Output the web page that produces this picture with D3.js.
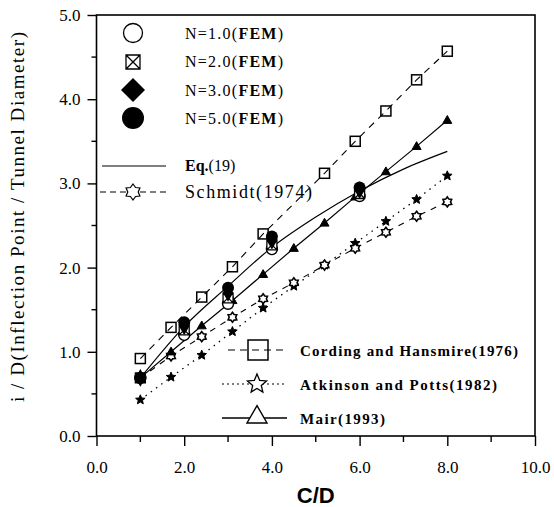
<!DOCTYPE html>
<html>
<head>
<meta charset="utf-8">
<script src="https://d3js.org/d3.v7.min.js"></script>
<style>
  body { margin: 0; background: #fff; }
  svg text { font-family: 'Liberation Serif', 'Times New Roman', 'DejaVu Serif', serif; fill: #000; }
</style>
</head>
<body>
<div id="chart"></div>
<script>
// C/D values used by the empirical series
var cdSteps = [1.0, 1.7, 2.4, 3.1, 3.8, 4.5, 5.2, 5.9, 6.6, 7.3, 8.0];

// Cording and Hansmire(1976) - no point at 4.5
var cordingCD = [1.0, 1.7, 2.4, 3.1, 3.8, 5.2, 5.9, 6.6, 7.3, 8.0];
var cordingVals = [0.92, 1.29, 1.65, 2.01, 2.40, 3.12, 3.50, 3.86, 4.23, 4.57];
var atkinsonVals = [0.43, 0.70, 0.96, 1.24, 1.52, 1.78, 2.03, 2.29, 2.55, 2.81, 3.09];
var schmidtVals = [0.69, 0.95, 1.18, 1.41, 1.63, 1.82, 2.03, 2.23, 2.42, 2.61, 2.78];
var mairVals = [0.69, 1.00, 1.31, 1.61, 1.92, 2.23, 2.53, 2.84, 3.14, 3.44, 3.75];

// Eq.(19)
var eqCD = [1, 2, 3, 4, 5, 6, 7, 8];
var eqVals = [0.69, 1.30, 1.78, 2.24, 2.60, 2.91, 3.17, 3.38];

// FEM results
var femCD = [1, 2, 3, 4, 6];
var femN1 = [0.69, 1.20, 1.57, 2.22, 2.85];
var femN2 = [0.69, 1.26, 1.64, 2.27, 2.88];
var femN3 = [0.69, 1.30, 1.70, 2.32, 2.92];
var femN5 = [0.69, 1.35, 1.76, 2.37, 2.95];

var xTicks = [0, 2, 4, 6, 8, 10];
var yTicks = [0, 1, 2, 3, 4, 5];

var W = 554, H = 507;
var margin = {top: 15, right: 19, bottom: 71, left: 96.5};
var width = W - margin.left - margin.right,
    height = H - margin.top - margin.bottom;
var SERIF = "'Liberation Serif', 'Times New Roman', 'DejaVu Serif', serif";

var svg = d3.select("#chart").append("svg")
    .attr("width", W).attr("height", H)
    .attr("font-family", SERIF);
var g = svg.append("g")
    .attr("transform", "translate(" + margin.left + "," + margin.top + ")");

var x = d3.scaleLinear().domain([0, 10]).range([0, width]);
var y = d3.scaleLinear().domain([0, 5]).range([height, 0]);

// frame
g.append("rect").attr("width", width).attr("height", height)
  .attr("fill", "none").attr("stroke", "#000").attr("stroke-width", 1.6);

// x axis ticks (outward)
var xAxis = g.append("g").attr("transform", "translate(0," + height + ")")
  .call(d3.axisBottom(x).tickValues(xTicks).tickSize(10).tickPadding(15)
    .tickFormat(d3.format(".1f")));
xAxis.append("g").selectAll("line").data(d3.range(1, 10, 2)).join("line")
  .attr("x1", d => x(d)).attr("x2", d => x(d)).attr("y1", 0).attr("y2", 6)
  .attr("stroke", "#000").attr("stroke-width", 1.4);

var yAxis = g.append("g")
  .call(d3.axisLeft(y).tickValues(yTicks).tickSize(9).tickPadding(7)
    .tickFormat(d3.format(".1f")));
yAxis.append("g").selectAll("line").data(d3.range(0.5, 5, 1)).join("line")
  .attr("x1", 0).attr("x2", -5).attr("y1", d => y(d)).attr("y2", d => y(d))
  .attr("stroke", "#000").attr("stroke-width", 1.4);

[xAxis, yAxis].forEach(function(a) {
  a.attr("font-family", SERIF);
  a.select(".domain").remove();
  a.selectAll(".tick line").attr("stroke-width", 1.4);
  a.selectAll("text").style("font-family", SERIF)
    .style("font-size", "17px").attr("fill", "#000");
});

// axis titles
g.append("text").attr("x", width / 2).attr("y", height + 67)
  .attr("text-anchor", "middle")
  .style("font-family", "'Liberation Sans', Arial, sans-serif").style("font-weight", "bold")
  .style("font-size", "22px").text("C/D");
svg.append("text")
  .attr("transform", "translate(24,217) rotate(-90)")
  .attr("text-anchor", "middle").style("font-size", "19px")
  .attr("textLength", 370).attr("lengthAdjust", "spacing")
  .text("i / D(Inflection Point / Tunnel Diameter)");

// symbol helpers
function star(cx, cy, r) {
  var pts = [];
  for (var i = 0; i < 10; i++) {
    var a = -Math.PI / 2 + i * Math.PI / 5, rr = i % 2 ? r * 0.45 : r;
    pts.push([cx + rr * Math.cos(a), cy + rr * Math.sin(a)]);
  }
  return "M" + pts.join("L") + "Z";
}
function flower(cx, cy, r) {
  var pts = [];
  for (var i = 0; i < 12; i++) {
    var a = -Math.PI / 2 + i * Math.PI / 6, rr = i % 2 ? r * 0.65 : r;
    pts.push([cx + rr * Math.cos(a), cy + rr * Math.sin(a)]);
  }
  return "M" + pts.join("L") + "Z";
}
function tri(cx, cy, s) {
  var h = s * 0.87;
  return "M" + cx + "," + (cy - h * 0.6) + "L" + (cx + s / 2) + "," + (cy + h * 0.4) +
    "L" + (cx - s / 2) + "," + (cy + h * 0.4) + "Z";
}

function series(xs, ys) { return xs.map(function(d, i) { return [d, ys[i]]; }); }
var line = d3.line().x(d => x(d[0])).y(d => y(d[1]));

// lines
g.append("path").datum(series(cordingCD, cordingVals)).attr("d", line)
  .attr("fill", "none").attr("stroke", "#000").attr("stroke-width", 1.1)
  .attr("stroke-dasharray", "7,6");
g.append("path").datum(series(cdSteps, atkinsonVals)).attr("d", line)
  .attr("fill", "none").attr("stroke", "#000").attr("stroke-width", 1.3)
  .attr("stroke-dasharray", "1.5,5");
g.append("path").datum(series(cdSteps, schmidtVals)).attr("d", line)
  .attr("fill", "none").attr("stroke", "#000").attr("stroke-width", 1.1)
  .attr("stroke-dasharray", "6,6");
g.append("path").datum(series(cdSteps, mairVals)).attr("d", line)
  .attr("fill", "none").attr("stroke", "#000").attr("stroke-width", 1.2);
g.append("path").datum(series(eqCD, eqVals))
  .attr("d", d3.line().curve(d3.curveMonotoneX).x(d => x(d[0])).y(d => y(d[1])))
  .attr("fill", "none").attr("stroke", "#000").attr("stroke-width", 1.2);

// markers of empirical series
g.selectAll(".cord").data(series(cordingCD, cordingVals)).join("rect")
  .attr("x", d => x(d[0]) - 5).attr("y", d => y(d[1]) - 5)
  .attr("width", 10).attr("height", 10)
  .attr("fill", "none").attr("stroke", "#000").attr("stroke-width", 1.5);
g.selectAll(".atk").data(series(cdSteps, atkinsonVals)).join("path")
  .attr("d", d => star(x(d[0]), y(d[1]), 5))
  .attr("fill", "#000").attr("stroke", "#000").attr("stroke-width", 1);
g.selectAll(".sch").data(series(cdSteps, schmidtVals)).join("path")
  .attr("d", d => flower(x(d[0]), y(d[1]), 5))
  .attr("fill", "#fff").attr("stroke", "#000").attr("stroke-width", 1.6);
g.selectAll(".mair").data(series(cdSteps, mairVals)).join("path")
  .attr("d", d => tri(x(d[0]), y(d[1]), 9))
  .attr("fill", "#000").attr("stroke", "#000").attr("stroke-width", 1);

// FEM markers
g.selectAll(".n1").data(series(femCD, femN1)).join("circle")
  .attr("cx", d => x(d[0])).attr("cy", d => y(d[1])).attr("r", 5.5)
  .attr("fill", "#fff").attr("stroke", "#000").attr("stroke-width", 1.4);
g.selectAll(".n2").data(series(femCD, femN2)).join("path")
  .attr("d", function(d) {
    var cx = x(d[0]), cy = y(d[1]), s = 5;
    return "M" + (cx - s) + "," + (cy - s) + "h" + 2 * s + "v" + 2 * s + "h" + (-2 * s) + "Z" +
      "M" + (cx - s) + "," + (cy - s) + "L" + (cx + s) + "," + (cy + s) +
      "M" + (cx + s) + "," + (cy - s) + "L" + (cx - s) + "," + (cy + s);
  })
  .attr("fill", "#fff").attr("stroke", "#000").attr("stroke-width", 1.3);
g.selectAll(".n3").data(series(femCD, femN3)).join("path")
  .attr("d", d => d3.symbol(d3.symbolDiamond, 90)())
  .attr("transform", d => "translate(" + x(d[0]) + "," + y(d[1]) + ")")
  .attr("fill", "#000");
g.selectAll(".n5").data(series(femCD, femN5)).join("circle")
  .attr("cx", d => x(d[0])).attr("cy", d => y(d[1])).attr("r", 6)
  .attr("fill", "#000");

// upper-left legend (page coordinates)
var L = svg.append("g");
L.append("circle").attr("cx", 133).attr("cy", 33).attr("r", 9.5)
  .attr("fill", "none").attr("stroke", "#000").attr("stroke-width", 1.3);
L.append("path").attr("d", "M126,55h14v14h-14Z M126,55L140,69 M140,55L126,69")
  .attr("fill", "none").attr("stroke", "#000").attr("stroke-width", 1.3);
L.append("path").attr("d", "M133,78L145,90L133,102L121,90Z").attr("fill", "#000");
L.append("circle").attr("cx", 133).attr("cy", 118).attr("r", 11).attr("fill", "#000");
L.append("line").attr("x1", 102).attr("x2", 166).attr("y1", 166).attr("y2", 166)
  .attr("stroke", "#000").attr("stroke-width", 1.1);
L.append("line").attr("x1", 100).attr("x2", 170).attr("y1", 192).attr("y2", 192)
  .attr("stroke", "#000").attr("stroke-width", 1.1).attr("stroke-dasharray", "6,4");
L.append("path").attr("d", flower(133, 192, 8)).attr("fill", "#fff")
  .attr("stroke", "#000").attr("stroke-width", 1.2);

var femLabels = ["1.0", "2.0", "3.0", "5.0"];
femLabels.forEach(function(n, i) {
  var t = L.append("text").attr("x", 185).attr("y", 39 + i * 28.3)
    .style("font-size", "16px").attr("textLength", 98).attr("lengthAdjust", "spacing");
  t.append("tspan").text("N=" + n + "(");
  t.append("tspan").style("font-weight", "bold").text("FEM");
  t.append("tspan").text(")");
});
L.append("text").attr("x", 185).attr("y", 171).style("font-size", "16px")
  .html('<tspan font-weight="bold">Eq.</tspan>(19)');
L.append("text").attr("x", 185).attr("y", 198).style("font-size", "18px")
  .attr("textLength", 127).attr("lengthAdjust", "spacing").text("Schmidt(1974)");

// lower-right legend
var R = svg.append("g");
R.append("line").attr("x1", 228).attr("x2", 284).attr("y1", 350).attr("y2", 350)
  .attr("stroke", "#000").attr("stroke-width", 1.1).attr("stroke-dasharray", "7,5");
R.append("rect").attr("x", 248).attr("y", 340).attr("width", 20).attr("height", 20)
  .attr("fill", "none").attr("stroke", "#000").attr("stroke-width", 1.5);
R.append("line").attr("x1", 222).attr("x2", 287).attr("y1", 384).attr("y2", 384)
  .attr("stroke", "#000").attr("stroke-width", 1.2).attr("stroke-dasharray", "2,3");
R.append("path").attr("d", star(257, 384, 10)).attr("fill", "#fff")
  .attr("stroke", "#000").attr("stroke-width", 1.3);
R.append("line").attr("x1", 222).attr("x2", 287).attr("y1", 418).attr("y2", 418)
  .attr("stroke", "#000").attr("stroke-width", 1.3);
R.append("path").attr("d", tri(257, 416, 20)).attr("fill", "#fff")
  .attr("stroke", "#000").attr("stroke-width", 1.4);

var rLabels = ["Cording and Hansmire(1976)", "Atkinson and Potts(1982)", "Mair(1993)"];
var rLen = [218, 197, 85];
var rY = [356, 390, 424];
rLabels.forEach(function(s, i) {
  R.append("text").attr("x", 300).attr("y", rY[i]).style("font-size", "15px")
    .style("font-weight", "bold").attr("textLength", rLen[i])
    .attr("lengthAdjust", "spacing").text(s);
});
</script>
</body>
</html>
